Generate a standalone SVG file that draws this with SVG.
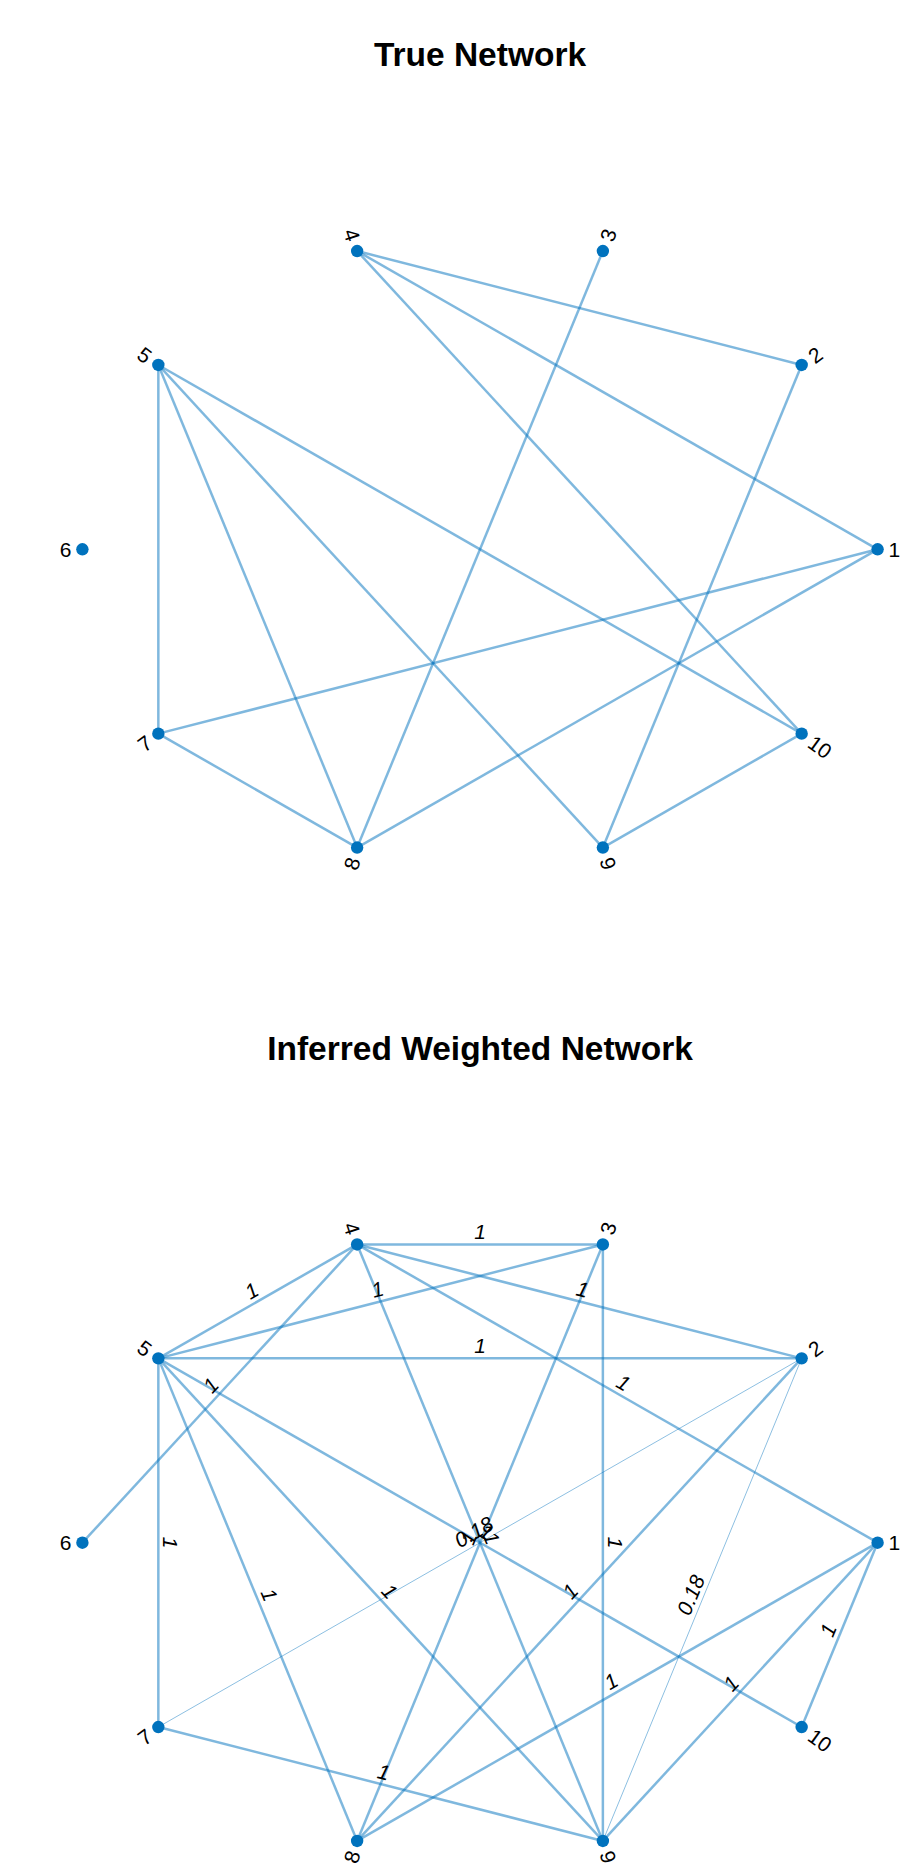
<svg xmlns="http://www.w3.org/2000/svg" width="903" height="1870" viewBox="0 0 903 1870">
  <style>
    .title { font-family: "Liberation Sans", Arial, sans-serif; font-weight: bold; font-size: 33.5px; fill: #000; text-anchor: middle; }
    .edge { stroke: #0072bd; stroke-opacity: 0.5; stroke-width: 2.5; fill: none; }
    .edge.thin { stroke-width: 0.9; }
    .node circle { fill: #0072bd; }
    .nlabel { font-family: "Liberation Sans", Arial, sans-serif; font-size: 21px; fill: #000; }
    .nlabel.end { text-anchor: end; }
    .elabel { font-family: "Liberation Sans", Arial, sans-serif; font-size: 21px; font-style: italic; fill: #000; text-anchor: middle; }
  </style>

  <rect x="0" y="0" width="903" height="1870" fill="#fff"/>

  <!-- ===== Graph 1: True Network ===== -->
  <text class="title" x="480" y="66">True Network</text>

  <g id="true-edges">
    <line class="edge" x1="877.6" y1="549.3" x2="357.13" y2="251.05"/>
    <line class="edge" x1="877.6" y1="549.3" x2="158.34" y2="733.63"/>
    <line class="edge" x1="877.6" y1="549.3" x2="357.13" y2="847.55"/>
    <line class="edge" x1="801.66" y1="364.97" x2="357.13" y2="251.05"/>
    <line class="edge" x1="801.66" y1="364.97" x2="602.87" y2="847.55"/>
    <line class="edge" x1="602.87" y1="251.05" x2="357.13" y2="847.55"/>
    <line class="edge" x1="357.13" y1="251.05" x2="801.66" y2="733.63"/>
    <line class="edge" x1="158.34" y1="364.97" x2="158.34" y2="733.63"/>
    <line class="edge" x1="158.34" y1="364.97" x2="357.13" y2="847.55"/>
    <line class="edge" x1="158.34" y1="364.97" x2="602.87" y2="847.55"/>
    <line class="edge" x1="158.34" y1="364.97" x2="801.66" y2="733.63"/>
    <line class="edge" x1="158.34" y1="733.63" x2="357.13" y2="847.55"/>
    <line class="edge" x1="602.87" y1="847.55" x2="801.66" y2="733.63"/>
  </g>

  <g id="true-n1" class="node"><circle cx="877.6" cy="549.3" r="6.2"/><text class="nlabel" transform="translate(877.6,549.3)" x="11" y="7.5">1</text></g>
  <g id="true-n2" class="node"><circle cx="801.66" cy="364.97" r="6.2"/><text class="nlabel" transform="translate(801.66,364.97) rotate(-36)" x="11" y="7.5">2</text></g>
  <g id="true-n3" class="node"><circle cx="602.87" cy="251.05" r="6.2"/><text class="nlabel" transform="translate(602.87,251.05) rotate(-72)" x="11" y="7.5">3</text></g>
  <g id="true-n4" class="node"><circle cx="357.13" cy="251.05" r="6.2"/><text class="nlabel end" transform="translate(357.13,251.05) rotate(72)" x="-11" y="7.5">4</text></g>
  <g id="true-n5" class="node"><circle cx="158.34" cy="364.97" r="6.2"/><text class="nlabel end" transform="translate(158.34,364.97) rotate(36)" x="-11" y="7.5">5</text></g>
  <g id="true-n6" class="node"><circle cx="82.4" cy="549.3" r="6.2"/><text class="nlabel end" transform="translate(82.4,549.3)" x="-11" y="7.5">6</text></g>
  <g id="true-n7" class="node"><circle cx="158.34" cy="733.63" r="6.2"/><text class="nlabel end" transform="translate(158.34,733.63) rotate(-36)" x="-11" y="7.5">7</text></g>
  <g id="true-n8" class="node"><circle cx="357.13" cy="847.55" r="6.2"/><text class="nlabel end" transform="translate(357.13,847.55) rotate(-72)" x="-11" y="7.5">8</text></g>
  <g id="true-n9" class="node"><circle cx="602.87" cy="847.55" r="6.2"/><text class="nlabel" transform="translate(602.87,847.55) rotate(72)" x="11" y="7.5">9</text></g>
  <g id="true-n10" class="node"><circle cx="801.66" cy="733.63" r="6.2"/><text class="nlabel" transform="translate(801.66,733.63) rotate(36)" x="11" y="7.5">10</text></g>

  <!-- ===== Graph 2: Inferred Weighted Network ===== -->
  <text class="title" x="480" y="1060">Inferred Weighted Network</text>

  <g id="weighted-edges">
    <line class="edge" x1="877.6" y1="1542.7" x2="357.13" y2="1244.45"/>
    <line class="edge" x1="877.6" y1="1542.7" x2="357.13" y2="1840.95"/>
    <line class="edge" x1="877.6" y1="1542.7" x2="602.87" y2="1840.95"/>
    <line class="edge" x1="877.6" y1="1542.7" x2="801.66" y2="1727.03"/>
    <line class="edge" x1="801.66" y1="1358.37" x2="357.13" y2="1244.45"/>
    <line class="edge" x1="801.66" y1="1358.37" x2="158.34" y2="1358.37"/>
    <line class="edge thin" x1="801.66" y1="1358.37" x2="158.34" y2="1727.03"/>
    <line class="edge" x1="801.66" y1="1358.37" x2="357.13" y2="1840.95"/>
    <line class="edge thin" x1="801.66" y1="1358.37" x2="602.87" y2="1840.95"/>
    <line class="edge" x1="602.87" y1="1244.45" x2="357.13" y2="1244.45"/>
    <line class="edge" x1="602.87" y1="1244.45" x2="158.34" y2="1358.37"/>
    <line class="edge" x1="602.87" y1="1244.45" x2="357.13" y2="1840.95"/>
    <line class="edge" x1="602.87" y1="1244.45" x2="602.87" y2="1840.95"/>
    <line class="edge" x1="357.13" y1="1244.45" x2="158.34" y2="1358.37"/>
    <line class="edge" x1="357.13" y1="1244.45" x2="82.4" y2="1542.7"/>
    <line class="edge" x1="357.13" y1="1244.45" x2="602.87" y2="1840.95"/>
    <line class="edge" x1="158.34" y1="1358.37" x2="158.34" y2="1727.03"/>
    <line class="edge" x1="158.34" y1="1358.37" x2="357.13" y2="1840.95"/>
    <line class="edge" x1="158.34" y1="1358.37" x2="602.87" y2="1840.95"/>
    <line class="edge" x1="158.34" y1="1358.37" x2="801.66" y2="1727.03"/>
    <line class="edge" x1="158.34" y1="1727.03" x2="602.87" y2="1840.95"/>
  </g>

  <g id="weighted-n1" class="node"><circle cx="877.6" cy="1542.7" r="6.2"/><text class="nlabel" transform="translate(877.6,1542.7)" x="11" y="7.5">1</text></g>
  <g id="weighted-n2" class="node"><circle cx="801.66" cy="1358.37" r="6.2"/><text class="nlabel" transform="translate(801.66,1358.37) rotate(-36)" x="11" y="7.5">2</text></g>
  <g id="weighted-n3" class="node"><circle cx="602.87" cy="1244.45" r="6.2"/><text class="nlabel" transform="translate(602.87,1244.45) rotate(-72)" x="11" y="7.5">3</text></g>
  <g id="weighted-n4" class="node"><circle cx="357.13" cy="1244.45" r="6.2"/><text class="nlabel end" transform="translate(357.13,1244.45) rotate(72)" x="-11" y="7.5">4</text></g>
  <g id="weighted-n5" class="node"><circle cx="158.34" cy="1358.37" r="6.2"/><text class="nlabel end" transform="translate(158.34,1358.37) rotate(36)" x="-11" y="7.5">5</text></g>
  <g id="weighted-n6" class="node"><circle cx="82.4" cy="1542.7" r="6.2"/><text class="nlabel end" transform="translate(82.4,1542.7)" x="-11" y="7.5">6</text></g>
  <g id="weighted-n7" class="node"><circle cx="158.34" cy="1727.03" r="6.2"/><text class="nlabel end" transform="translate(158.34,1727.03) rotate(-36)" x="-11" y="7.5">7</text></g>
  <g id="weighted-n8" class="node"><circle cx="357.13" cy="1840.95" r="6.2"/><text class="nlabel end" transform="translate(357.13,1840.95) rotate(-72)" x="-11" y="7.5">8</text></g>
  <g id="weighted-n9" class="node"><circle cx="602.87" cy="1840.95" r="6.2"/><text class="nlabel" transform="translate(602.87,1840.95) rotate(72)" x="11" y="7.5">9</text></g>
  <g id="weighted-n10" class="node"><circle cx="801.66" cy="1727.03" r="6.2"/><text class="nlabel" transform="translate(801.66,1727.03) rotate(36)" x="11" y="7.5">10</text></g>

  <!-- edge weights, placed at each edge midpoint and turned along the edge -->
  <g id="weighted-edge-labels">
    <text class="elabel" transform="translate(617.37,1393.58) rotate(29.82)" y="-5">1</text>
    <text class="elabel" transform="translate(617.37,1691.83) rotate(-29.82)" y="-5">1</text>
    <text class="elabel" transform="translate(740.24,1691.83) rotate(-47.35)" y="-5">1</text>
    <text class="elabel" transform="translate(839.63,1634.87) rotate(-67.61)" y="-5">1</text>
    <text class="elabel" transform="translate(579.4,1301.41) rotate(14.37)" y="-5">1</text>
    <text class="elabel" transform="translate(480,1358.37)" y="-5">1</text>
    <text class="elabel" transform="translate(480,1542.7) rotate(-29.82)" y="-5">0.18</text>
    <text class="elabel" transform="translate(579.4,1599.66) rotate(-47.35)" y="-5">1</text>
    <text class="elabel" transform="translate(702.27,1599.66) rotate(-67.61)" y="-5">0.18</text>
    <text class="elabel" transform="translate(480,1244.45)" y="-5">1</text>
    <text class="elabel" transform="translate(380.6,1301.41) rotate(-14.37)" y="-5">1</text>
    <text class="elabel" transform="translate(480,1542.7) rotate(-67.61)" y="-5">1</text>
    <text class="elabel" transform="translate(602.87,1542.7) rotate(90)" y="-5">1</text>
    <text class="elabel" transform="translate(257.74,1301.41) rotate(-29.82)" y="-5">1</text>
    <text class="elabel" transform="translate(219.77,1393.58) rotate(-47.35)" y="-5">1</text>
    <text class="elabel" transform="translate(480,1542.7) rotate(67.61)" y="-5">1</text>
    <text class="elabel" transform="translate(158.34,1542.7) rotate(90)" y="-5">1</text>
    <text class="elabel" transform="translate(257.74,1599.66) rotate(67.61)" y="-5">1</text>
    <text class="elabel" transform="translate(380.6,1599.66) rotate(47.35)" y="-5">1</text>
    <text class="elabel" transform="translate(480,1542.7) rotate(29.82)" y="-5">1</text>
    <text class="elabel" transform="translate(380.6,1783.99) rotate(14.37)" y="-5">1</text>
  </g>
</svg>
